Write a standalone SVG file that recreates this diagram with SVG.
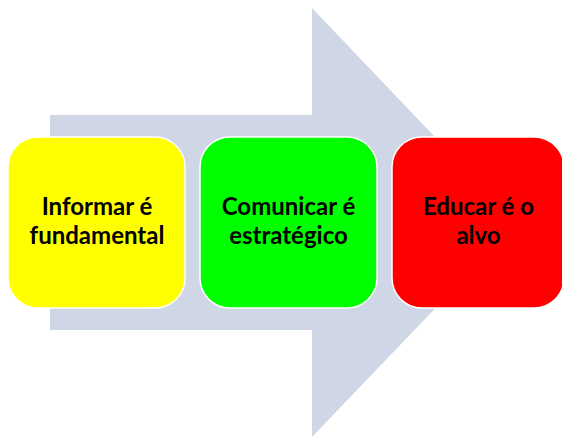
<svg xmlns="http://www.w3.org/2000/svg" width="562" height="437" viewBox="0 0 562 437">
  <style>
    .box { stroke: #ffffff; stroke-width: 1.5; }
    .label { font-family: Lato, "Liberation Sans", sans-serif; font-weight: bold; font-size: 24px; fill: #000000; text-anchor: middle; }
  </style>
  <rect width="562" height="437" fill="#ffffff"/>
  <!-- backdrop arrow -->
  <g id="connectors">
    <path d="M50,115 L312,115 L312,8 L517,223 L312,437 L312,330 L50,330 Z" fill="#CFD6E6"/>
  </g>
  <g id="node-informar">
    <rect class="box" x="8" y="137" width="177" height="171" rx="30" ry="30" fill="#FFFF00"/>
    <text class="label" x="97" y="215">Informar é</text>
    <text class="label" x="97" y="244">fundamental</text>
  </g>
  <g id="node-comunicar">
    <rect class="box" x="200" y="137" width="177" height="171" rx="30" ry="30" fill="#00FF00"/>
    <text class="label" x="288.5" y="215">Comunicar é</text>
    <text class="label" x="288.5" y="244">estratégico</text>
  </g>
  <g id="node-educar">
    <rect class="box" x="392" y="137" width="172" height="171" rx="30" ry="30" fill="#FF0000"/>
    <text class="label" x="478.5" y="215">Educar é o</text>
    <text class="label" x="478.5" y="244">alvo</text>
  </g>
</svg>
